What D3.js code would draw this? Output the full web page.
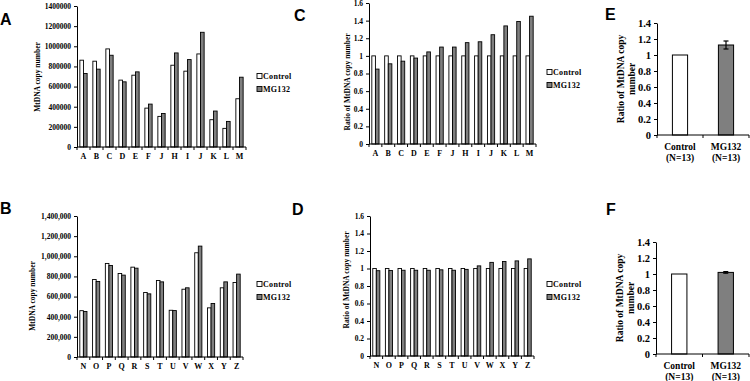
<!DOCTYPE html>
<html><head><meta charset="utf-8">
<script src="https://cdn.jsdelivr.net/npm/d3@7/dist/d3.min.js"></script>
<style>
body{margin:0;background:#fff;}
svg{display:block;}
text{font-family:"Liberation Serif","Times New Roman",serif;font-weight:bold;fill:#000;}
.plabel{font-family:"Liberation Sans",Arial,sans-serif;font-weight:bold;font-size:16px;}
</style></head>
<body>
<svg id="c" width="750" height="381"></svg>
<script>
// ---------- data ----------
const catsA = ["A","B","C","D","E","F","J","H","I","J","K","L","M"];
const ctrlA = [862000, 852000, 974000, 664000, 713000, 386000, 304000, 812000, 753000, 924000, 271000, 185000, 479000];
const mgA   = [730000, 773000, 911000, 647000, 746000, 426000, 333000, 934000, 868000, 1139000, 357000, 254000, 693000];

const catsB = ["N","O","P","Q","R","S","T","U","V","W","X","Y","Z"];
const ctrlB = [460000, 770000, 929000, 829000, 892000, 640000, 760000, 464000, 673000, 1035000, 488000, 687000, 740000];
const mgB   = [452000, 750000, 909000, 813000, 882000, 627000, 746000, 461000, 687000, 1101000, 531000, 746000, 823000];

const ctrlC = [1,1,1,1,1,1,1,1,1,1,1,1,1];
const mgC   = [0.85, 0.91, 0.94, 0.975, 1.045, 1.10, 1.10, 1.15, 1.16, 1.24, 1.34, 1.39, 1.45];

const ctrlD = [1,1,1,1,1,1,1,1,1,1,1,1,1];
const mgD   = [0.975, 0.977, 0.98, 0.98, 0.98, 0.985, 0.98, 0.99, 1.03, 1.07, 1.08, 1.087, 1.11];

const groupsEF = [["Control","(N=13)"],["MG132","(N=13)"]];
const meanE = [1, 1.125];
const errE  = [0, 0.05];
const meanF = [1, 1.02];
const errF  = [0, 0.01];

const seriesNames = ["Control","MG132"];
const ticksCount = [0,200000,400000,600000,800000,1000000,1200000,1400000];
const ticksRatio16 = [0,0.2,0.4,0.6,0.8,1,1.2,1.4,1.6];
const ticksRatio14 = [0,0.2,0.4,0.6,0.8,1,1.2,1.4];

// ---------- styles ----------
const GRAY = "#7f7f7f";
const svg = d3.select("#c");
svg.append("rect").attr("width",750).attr("height",381).attr("fill","#fff");

function yAxis(g, y, ticks, fmt, fs){
  const ax = g.append("g").call(d3.axisLeft(y).tickValues(ticks).tickFormat(fmt).tickSize(3).tickSizeOuter(0));
  ax.select(".domain").attr("stroke","#000");
  ax.selectAll(".tick line").attr("stroke","#000");
  ax.selectAll("text").attr("font-size",fs).attr("font-family","Liberation Serif").attr("font-weight","bold").attr("fill","#000");
  return ax;
}

function pairedPanel(o){
  const g = svg.append("g");
  const idx = d3.range(o.cats.length);
  const x = d3.scaleBand().domain(idx).range([o.x0,o.x1]);
  const y = d3.scaleLinear().domain(o.domain).range([o.yBot,o.yTop]);
  const bw = x.step()*0.28;
  // bars
  idx.forEach(i=>{
    const cx = x(i)+x.bandwidth()/2;
    g.append("rect").attr("x",cx-bw).attr("y",y(o.ctrl[i])).attr("width",bw).attr("height",y(0)-y(o.ctrl[i]))
      .attr("fill","#fff").attr("stroke","#000").attr("stroke-width",0.9);
    g.append("rect").attr("x",cx).attr("y",y(o.mg[i])).attr("width",bw).attr("height",y(0)-y(o.mg[i]))
      .attr("fill",GRAY).attr("stroke","#000").attr("stroke-width",0.9);
  });
  // x axis line + boundary ticks
  g.append("line").attr("x1",o.x0).attr("x2",o.x1).attr("y1",y(0)).attr("y2",y(0)).attr("stroke","#000");
  d3.range(o.cats.length+1).forEach(k=>{
    const xx = o.x0 + k*x.step();
    g.append("line").attr("x1",xx).attr("x2",xx).attr("y1",y(0)).attr("y2",y(0)+3).attr("stroke","#000");
  });
  idx.forEach(i=>{
    g.append("text").attr("x",x(i)+x.bandwidth()/2).attr("y",y(0)+12).attr("text-anchor","middle")
      .attr("font-size",8).text(o.cats[i]);
  });
  yAxis(g.append("g").attr("transform",`translate(${o.x0},0)`), y, o.ticks, o.fmt, 7.5);
  // y label
  g.append("text").attr("transform",`translate(${o.ylx},${o.yly}) rotate(-90)`).attr("text-anchor","middle")
    .attr("font-size",o.ylfs).text(o.ylabel);
  // panel label
  g.append("text").attr("class","plabel").attr("x",o.px).attr("y",o.py).text(o.plabel);
  // legend
  seriesNames.forEach((s,k)=>{
    const ly = o.ly + k*13;
    g.append("rect").attr("x",o.lx).attr("y",ly-5.5).attr("width",5).attr("height",5)
      .attr("fill",k===0?"#fff":GRAY).attr("stroke","#000").attr("stroke-width",0.9);
    g.append("text").attr("x",o.lx+6).attr("y",ly).attr("font-size",8).attr("letter-spacing","0.3px").text(s);
  });
}

function summaryPanel(o){
  const g = svg.append("g");
  const idx = d3.range(groupsEF.length);
  const x = d3.scaleBand().domain(idx).range([o.x0,o.x1]);
  const y = d3.scaleLinear().domain([0,1.4]).range([o.yBot,o.yTop]);
  const bw = x.step()*0.33;
  idx.forEach(i=>{
    const cx = x(i)+x.bandwidth()/2;
    g.append("rect").attr("x",cx-bw/2).attr("y",y(o.mean[i])).attr("width",bw).attr("height",y(0)-y(o.mean[i]))
      .attr("fill",i===0?"#fff":GRAY).attr("stroke","#000").attr("stroke-width",1);
    if(o.err[i]>0){
      const t=y(o.mean[i]+o.err[i]), b=y(o.mean[i]-o.err[i]);
      g.append("line").attr("x1",cx).attr("x2",cx).attr("y1",t).attr("y2",b).attr("stroke","#000").attr("stroke-width",1.2);
      [t,b].forEach(v=>g.append("line").attr("x1",cx-2.5).attr("x2",cx+2.5).attr("y1",v).attr("y2",v).attr("stroke","#000").attr("stroke-width",1.2));
    }
    groupsEF[i].forEach((line,j)=>{
      g.append("text").attr("x",cx).attr("y",y(0)+15+j*11).attr("text-anchor","middle").attr("font-size",9.5).text(line);
    });
  });
  g.append("line").attr("x1",o.x0).attr("x2",o.x1).attr("y1",y(0)).attr("y2",y(0)).attr("stroke","#000");
  d3.range(groupsEF.length+1).forEach(k=>{
    const xx = o.x0 + k*x.step();
    g.append("line").attr("x1",xx).attr("x2",xx).attr("y1",y(0)).attr("y2",y(0)+3).attr("stroke","#000");
  });
  yAxis(g.append("g").attr("transform",`translate(${o.x0},0)`), y, ticksRatio14, d3.format(""), 10.5);
  const t = g.append("text").attr("transform",`translate(${o.ylx},${o.yly}) rotate(-90)`).attr("text-anchor","middle").attr("font-size",9.5);
  t.append("tspan").attr("x",0).attr("dy",0).text("Ratio of MtDNA copy");
  t.append("tspan").attr("x",0).attr("dy",11).text("number");
  g.append("text").attr("class","plabel").attr("x",o.px).attr("y",o.py).text(o.plabel);
}

pairedPanel({cats:catsA, ctrl:ctrlA, mg:mgA, x0:77, x1:246, yTop:6, yBot:147, domain:[0,1400000],
  ticks:ticksCount, fmt:d3.format("d"), ylabel:"MtDNA copy number", ylx:40, yly:77, ylfs:7.5,
  plabel:"A", px:0, py:25, lx:257, ly:79});
pairedPanel({cats:catsB, ctrl:ctrlB, mg:mgB, x0:77, x1:243, yTop:216, yBot:357, domain:[0,1400000],
  ticks:ticksCount, fmt:d3.format(","), ylabel:"MtDNA copy number", ylx:35, yly:296, ylfs:7.5,
  plabel:"B", px:0, py:214, lx:257, ly:287});
pairedPanel({cats:catsA, ctrl:ctrlC, mg:mgC, x0:369, x1:536, yTop:3, yBot:144, domain:[0,1.6],
  ticks:ticksRatio16, fmt:d3.format(""), ylabel:"Ratio of MtDNA copy number", ylx:350, yly:82, ylfs:7.5,
  plabel:"C", px:294, py:21, lx:547, ly:75});
pairedPanel({cats:catsB, ctrl:ctrlD, mg:mgD, x0:370, x1:534, yTop:216, yBot:356, domain:[0,1.6],
  ticks:ticksRatio16, fmt:d3.format(""), ylabel:"Ratio of MtDNA copy number", ylx:349, yly:280, ylfs:7.5,
  plabel:"D", px:292, py:215, lx:547, ly:287});
summaryPanel({mean:meanE, err:errE, x0:657, x1:749, yTop:23, yBot:135, ylx:624, yly:79, plabel:"E", px:605, py:20});
summaryPanel({mean:meanF, err:errF, x0:656, x1:749, yTop:242, yBot:354, ylx:623, yly:298, plabel:"F", px:606, py:215});
</script>
</body></html>
